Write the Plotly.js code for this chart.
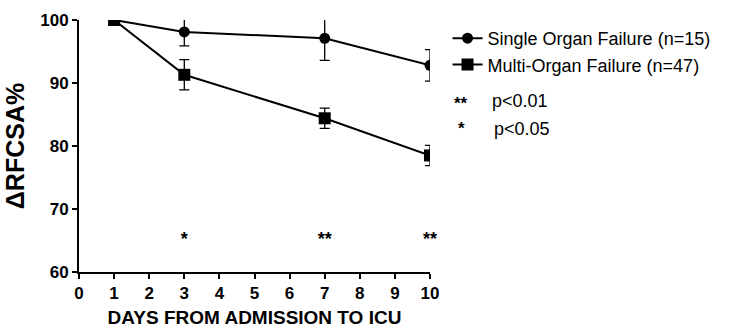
<!DOCTYPE html>
<html><head><meta charset="utf-8">
<script src="https://cdn.plot.ly/plotly-3.0.1.min.js"></script>
<style>html,body{margin:0;padding:0;background:#fff;}#c{width:734px;height:334px;}</style>
</head><body><div id="c"></div>
<script>
const days = [1, 3, 7, 10];
const singleMean = [100, 98.1, 97.1, 92.8];
const singleErr = [0, 2.2, 3.5, 2.5];
const multiMean = [100, 91.3, 84.4, 78.5];
const multiErr = [0, 2.4, 1.6, 1.6];
const starDays = [3, 7, 10];
const starY = [65, 65, 65];
const starText = ['*', '**', '**'];
const xTicks = [0,1,2,3,4,5,6,7,8,9,10];
const yTicks = [60,70,80,90,100];
const seriesNames = ['Single Organ Failure (n=15)', 'Multi-Organ Failure (n=47)'];

const F = 'Liberation Sans, Arial, sans-serif';
const traces = [
  {x: days, y: singleMean, name: seriesNames[0], legendgroup: 'a', mode: 'lines+markers', type: 'scatter',
   line: {color: '#000', width: 2}, marker: {symbol: 'circle', size: 11, color: '#000'},
   error_y: {type: 'data', array: singleErr, visible: true, color: '#000', thickness: 1.3, width: 5}},
  {x: days, y: multiMean, name: seriesNames[1], legendgroup: 'b', mode: 'lines+markers', type: 'scatter',
   line: {color: '#000', width: 2}, marker: {symbol: 'square', size: 12, color: '#000'},
   error_y: {type: 'data', array: multiErr, visible: true, color: '#000', thickness: 1.3, width: 5}},
  {x: starDays, y: starY, text: starText, mode: 'text', type: 'scatter', showlegend: false, cliponaxis: false,
   textfont: {family: F, size: 18, color: '#000', weight: 'bold'}, hoverinfo: 'skip'}
];
const layout = {
  width: 734, height: 334,
  margin: {l: 79, r: 304, t: 20, b: 62},
  paper_bgcolor: '#fff', plot_bgcolor: '#fff',
  showlegend: true,
  legend: {x: 1.05, y: 1.0, xanchor: 'left', yanchor: 'top', font: {family: F, size: 18, color: '#000'},
           bgcolor: 'rgba(0,0,0,0)', tracegroupgap: 0, itemwidth: 30},
  xaxis: {range: [0, 10], tickvals: xTicks, showline: true, linecolor: '#000', linewidth: 2,
          ticks: 'outside', ticklen: 5, tickwidth: 2, tickcolor: '#000', showgrid: false, zeroline: false,
          tickfont: {family: F, size: 17, color: '#000', weight: 'bold'},
          title: {text: 'DAYS FROM ADMISSION TO ICU', font: {family: F, size: 19, color: '#000', weight: 'bold'}, standoff: 8}},
  yaxis: {range: [60, 100], tickvals: yTicks, showline: true, linecolor: '#000', linewidth: 2,
          ticks: 'outside', ticklen: 5, tickwidth: 2, tickcolor: '#000', showgrid: false, zeroline: false,
          tickfont: {family: F, size: 17, color: '#000', weight: 'bold'},
          title: {text: 'ΔRFCSA%', font: {family: F, size: 25, color: '#000', weight: 'bold'}, standoff: 8}},
  annotations: [
    {xref: 'paper', yref: 'paper', x: 1.088, y: 0.667, yanchor: 'middle', text: '**', showarrow: false, xanchor: 'center',
     font: {family: F, size: 17, color: '#000', weight: 'bold'}},
    {xref: 'paper', yref: 'paper', x: 1.17, y: 0.679, yanchor: 'middle', text: 'p<0.01', showarrow: false, xanchor: 'left',
     font: {family: F, size: 18, color: '#000'}},
    {xref: 'paper', yref: 'paper', x: 1.09, y: 0.571, yanchor: 'middle', text: '*', showarrow: false, xanchor: 'center',
     font: {family: F, size: 17, color: '#000', weight: 'bold'}},
    {xref: 'paper', yref: 'paper', x: 1.177, y: 0.566, yanchor: 'middle', text: 'p<0.05', showarrow: false, xanchor: 'left',
     font: {family: F, size: 18, color: '#000'}}
  ]
};
Plotly.newPlot('c', traces, layout, {displayModeBar: false, staticPlot: true});
</script></body></html>
